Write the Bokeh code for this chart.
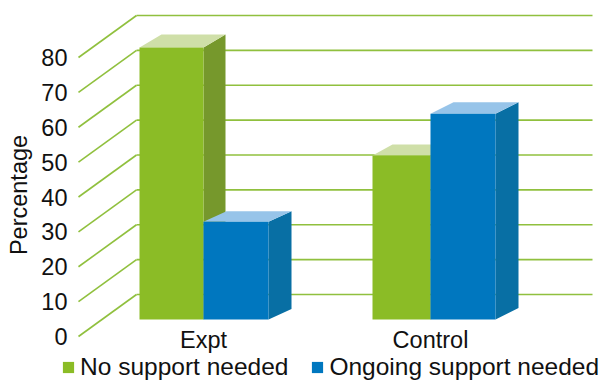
from bokeh.plotting import figure
from bokeh.models import Range1d, FixedTicker, Legend, LegendItem
from bokeh.embed import file_html
from bokeh.resources import INLINE

categories = ["Expt", "Control"]
no_support = [78, 47]
ongoing = [28, 59]
y_ticks = [0, 10, 20, 30, 40, 50, 60, 70, 80]

GREEN, GREEN_SIDE, GREEN_TOP = "#8BBC26", "#76982C", "#CFDFA8"
BLUE, BLUE_SIDE, BLUE_TOP = "#0077BF", "#086FA4", "#97C4E9"
GRID = "#90C03E"
FONT = "Liberation Sans"

group_x = [203, 430]          # boundary between the two bars of each group
green_w = [64, 58]
blue_w = [65, 65]
PX = 3.4875                   # pixels per percentage unit
base = 17 / PX                # bars stand on the floor, in front of the wall
wall_dx, wall_dy = 58, 42 / PX
gd = [(22, 13 / PX), (20, 11 / PX)]
bd = [(23, 10.5 / PX), (23, 11.5 / PX)]

p = figure(width=603, height=381, output_backend="svg", toolbar_location=None,
           x_range=Range1d(60, 603), y_range=Range1d(-45 / PX, 328 / PX),
           min_border_left=60, min_border_right=0, min_border_top=8, min_border_bottom=0,
           outline_line_color=None, background_fill_color=None, border_fill_color="white")
p.grid.visible = False

# floor/wall lines
x0, x1, x2 = 78, 136, 592
p.segment([x0] * 9, y_ticks, [x1] * 9, [v + wall_dy for v in y_ticks], line_color=GRID, line_width=1.6)
p.segment([x1] * 9, [v + wall_dy for v in y_ticks], [x2] * 9, [v + wall_dy for v in y_ticks],
          line_color=GRID, line_width=1.6)


def bar(left, right, val, d, front, side, top):
    dx, dy = d
    b, t = base, base + val
    p.patch([right, right + dx, right + dx, right], [b, b + dy, t + dy, t], fill_color=side, line_color=None)
    p.patch([left, left + dx, right + dx, right], [t, t + dy, t + dy, t], fill_color=top, line_color=None)
    return p.quad(left=[left], right=[right], bottom=[b], top=[t], fill_color=front, line_color=None)


green_r = blue_r = None
for i in range(2):
    green_r = bar(group_x[i] - green_w[i], group_x[i], no_support[i], gd[i], GREEN, GREEN_SIDE, GREEN_TOP)
    blue_r = bar(group_x[i], group_x[i] + blue_w[i], ongoing[i], bd[i], BLUE, BLUE_SIDE, BLUE_TOP)

# axes
ya = p.yaxis[0]
ya.ticker = FixedTicker(ticks=y_ticks)
ya.axis_line_color = None
ya.major_tick_line_color = None
ya.minor_tick_line_color = None
ya.major_tick_in = 0
ya.major_tick_out = 0
ya.major_label_standoff = -7
ya.major_label_text_font = FONT
ya.major_label_text_font_size = "23.5px"
ya.major_label_text_color = "#111111"
ya.axis_label = "Percentage"
ya.axis_label_text_font = FONT
ya.axis_label_text_font_style = "normal"
ya.axis_label_text_font_size = "23.5px"
ya.axis_label_text_color = "#111111"
ya.axis_label_standoff = 6

xa = p.xaxis[0]
xa.ticker = FixedTicker(ticks=group_x)
xa.major_label_overrides = {group_x[i]: categories[i] for i in range(2)}
xa.axis_line_color = None
xa.major_tick_line_color = None
xa.minor_tick_line_color = None
xa.major_tick_in = 0
xa.major_tick_out = 0
xa.major_label_standoff = -55
xa.major_label_text_font = FONT
xa.major_label_text_font_size = "23.5px"
xa.major_label_text_color = "#111111"

legend = Legend(items=[LegendItem(label="No support needed", renderers=[green_r]),
                       LegendItem(label="Ongoing support needed", renderers=[blue_r])],
                orientation="horizontal", location=(1, 0), margin=0, padding=0, spacing=22,
                glyph_width=14, glyph_height=14, label_standoff=5,
                label_text_font=FONT, label_text_font_size="24.5px", label_text_color="#111111",
                border_line_color=None, background_fill_alpha=0)
p.add_layout(legend, "center")

open("out.html", "w").write(file_html(p, INLINE))
